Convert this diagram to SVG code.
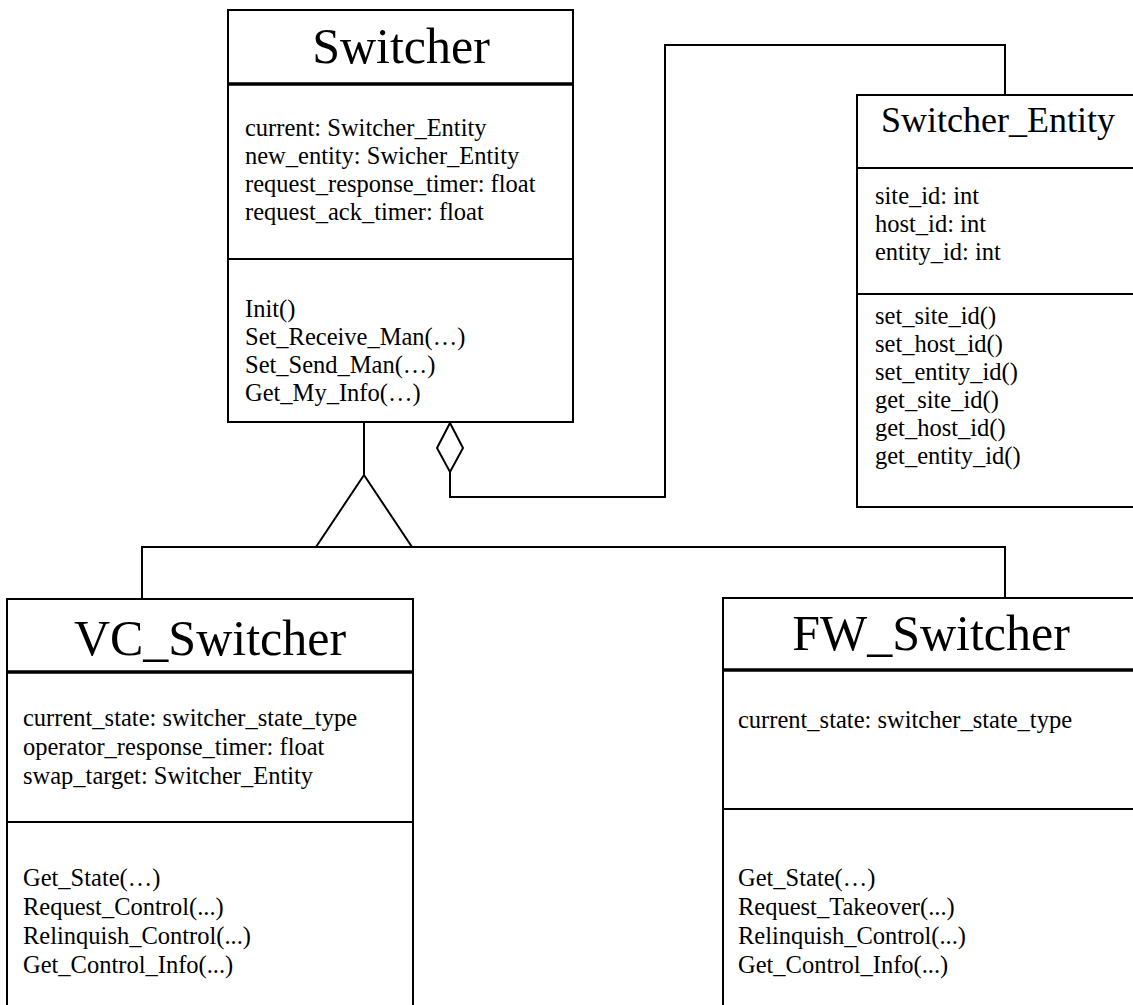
<svg xmlns="http://www.w3.org/2000/svg" width="1133" height="1005" viewBox="0 0 1133 1005">
  <style>
    .box { fill: #fff; stroke: #000; stroke-width: 2; }
    .sep { stroke: #000; stroke-width: 2; }
    .hdr { stroke: #000; stroke-width: 3.5; }
    .wire { fill: none; stroke: #000; stroke-width: 2; }
    text { font-family: "Liberation Serif", "Times New Roman", serif; fill: #000; }
    .title { font-size: 50px; text-anchor: middle; }
    .title-s { font-size: 36px; text-anchor: middle; }
    .item { font-size: 24.5px; }
  </style>

  <rect width="1133" height="1005" fill="#fff"/>

  <!-- connectors: generalization tree and aggregation -->
  <g id="connectors">
    <line class="wire" x1="364" y1="422" x2="364" y2="475"/>
    <polygon class="wire" points="364,475 316,547 412,547"/>
    <polyline class="wire" points="142,599 142,547 1005,547 1005,598"/>
    <polygon class="wire" points="450,423 463,448 450,472 437,448"/>
    <polyline class="wire" points="450,472 450,497 665,497 665,45 1005,45 1005,95"/>
  </g>

  <!-- Switcher -->
  <g id="switcher">
    <rect class="box" x="228" y="10" width="345" height="412"/>
    <line class="hdr" x1="228" y1="84" x2="573" y2="84"/>
    <line class="sep" x1="228" y1="259" x2="573" y2="259"/>
    <text class="title" x="401" y="63">Switcher</text>
    <text class="item" x="245" y="136">current: Switcher_Entity</text>
    <text class="item" x="245" y="164">new_entity: Swicher_Entity</text>
    <text class="item" x="245" y="192">request_response_timer: float</text>
    <text class="item" x="245" y="220">request_ack_timer: float</text>
    <text class="item" x="245" y="317">Init()</text>
    <text class="item" x="245" y="345">Set_Receive_Man(…)</text>
    <text class="item" x="245" y="373">Set_Send_Man(…)</text>
    <text class="item" x="245" y="401">Get_My_Info(…)</text>
  </g>

  <!-- Switcher_Entity -->
  <g id="switcher-entity">
    <rect class="box" x="857" y="95" width="290" height="412"/>
    <line class="sep" x1="857" y1="168" x2="1140" y2="168"/>
    <line class="sep" x1="857" y1="294" x2="1140" y2="294"/>
    <text class="title-s" x="998" y="132">Switcher_Entity</text>
    <text class="item" x="875" y="204">site_id: int</text>
    <text class="item" x="875" y="232">host_id: int</text>
    <text class="item" x="875" y="260">entity_id: int</text>
    <text class="item" x="875" y="324">set_site_id()</text>
    <text class="item" x="875" y="352">set_host_id()</text>
    <text class="item" x="875" y="380">set_entity_id()</text>
    <text class="item" x="875" y="408">get_site_id()</text>
    <text class="item" x="875" y="436">get_host_id()</text>
    <text class="item" x="875" y="464">get_entity_id()</text>
  </g>

  <!-- VC_Switcher -->
  <g id="vc-switcher">
    <rect class="box" x="7" y="599" width="406" height="420"/>
    <line class="hdr" x1="7" y1="672" x2="413" y2="672"/>
    <line class="sep" x1="7" y1="822" x2="413" y2="822"/>
    <text class="title" x="210" y="655">VC_Switcher</text>
    <text class="item" x="23" y="726">current_state: switcher_state_type</text>
    <text class="item" x="23" y="755">operator_response_timer: float</text>
    <text class="item" x="23" y="784">swap_target: Switcher_Entity</text>
    <text class="item" x="23" y="886">Get_State(…)</text>
    <text class="item" x="23" y="915">Request_Control(...)</text>
    <text class="item" x="23" y="944">Relinquish_Control(...)</text>
    <text class="item" x="23" y="973">Get_Control_Info(...)</text>
  </g>

  <!-- FW_Switcher -->
  <g id="fw-switcher">
    <rect class="box" x="723" y="598" width="420" height="420"/>
    <line class="hdr" x1="723" y1="670" x2="1140" y2="670"/>
    <line class="sep" x1="723" y1="809" x2="1140" y2="809"/>
    <text class="title" x="931" y="650">FW_Switcher</text>
    <text class="item" x="738" y="728">current_state: switcher_state_type</text>
    <text class="item" x="738" y="886">Get_State(…)</text>
    <text class="item" x="738" y="915">Request_Takeover(...)</text>
    <text class="item" x="738" y="944">Relinquish_Control(...)</text>
    <text class="item" x="738" y="973">Get_Control_Info(...)</text>
  </g>
</svg>
